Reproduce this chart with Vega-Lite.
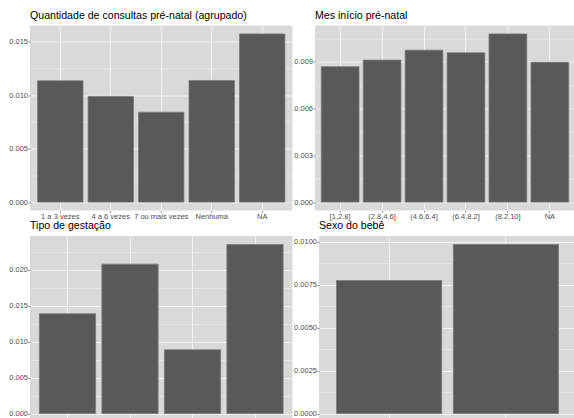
{
  "$schema": "https://vega.github.io/schema/vega-lite/v6.json",
  "autosize": {"type": "pad"},
  "padding": {"left": 8, "top": 10.5, "right": 0, "bottom": 0},
  "background": "white",
  "datasets": {
    "consultas": [
      {"categoria": "1 a 3 vezes", "densidade": 0.01133},
      {"categoria": "4 a 6 vezes", "densidade": 0.00987},
      {"categoria": "7 ou mais vezes", "densidade": 0.0084},
      {"categoria": "Nenhuma", "densidade": 0.01136},
      {"categoria": "NA", "densidade": 0.01571}
    ],
    "mes": [
      {"categoria": "[1,2.8]", "densidade": 0.00868},
      {"categoria": "(2.8,4.6]", "densidade": 0.0091},
      {"categoria": "(4.6,6.4]", "densidade": 0.00974},
      {"categoria": "(6.4,8.2]", "densidade": 0.00957},
      {"categoria": "(8.2,10]", "densidade": 0.01078},
      {"categoria": "NA", "densidade": 0.00896}
    ],
    "gestacao": [
      {"categoria": "Dupla", "densidade": 0.0139},
      {"categoria": "Tripla e mais", "densidade": 0.0208},
      {"categoria": "Única", "densidade": 0.00887},
      {"categoria": "NA", "densidade": 0.02354}
    ],
    "sexo": [
      {"categoria": "Feminino", "densidade": 0.00775},
      {"categoria": "Masculino", "densidade": 0.00985}
    ]
  },
  "vconcat": [
    {
      "hconcat": [
        {
          "width": 262.5,
          "height": 185,
          "title": {"text": "Quantidade de consultas pré-natal (agrupado)"},
          "data": {"name": "consultas"},
          "mark": {"type": "bar", "fill": "#595959", "stroke": "#7a7a7a", "strokeWidth": 0.8},
          "encoding": {
            "x": {"field": "categoria", "type": "nominal", "title": null,
              "sort": ["1 a 3 vezes", "4 a 6 vezes", "7 ou mais vezes", "Nenhuma", "NA"],
              "scale": {"paddingInner": 0.1, "paddingOuter": 0.15},
              "axis": {"bandPosition": 0.5}},
            "y": {"field": "densidade", "type": "quantitative", "title": null,
              "scale": {"domain": [-0.0007855, 0.0164955], "nice": false, "zero": false},
              "axis": {
                "values": [0, 0.0025, 0.005, 0.0075, 0.01, 0.0125, 0.015],
                "labelExpr": "abs(datum.value/0.005 - round(datum.value/0.005)) < 1e-6 ? format(datum.value, '.3f') : ''",
                "gridWidth": {"condition": {"test": "abs(datum.value/0.005 - round(datum.value/0.005)) < 1e-6", "value": 1}, "value": 0.5},
                "tickOpacity": {"condition": {"test": "abs(datum.value/0.005 - round(datum.value/0.005)) < 1e-6", "value": 1}, "value": 0}
              }},
            "y2": {"datum": 0}
          }
        },
        {
          "width": 260,
          "height": 185,
          "title": {"text": "Mes início pré-natal"},
          "data": {"name": "mes"},
          "mark": {"type": "bar", "fill": "#595959", "stroke": "#7a7a7a", "strokeWidth": 0.8},
          "encoding": {
            "x": {"field": "categoria", "type": "nominal", "title": null,
              "sort": ["[1,2.8]", "(2.8,4.6]", "(4.6,6.4]", "(6.4,8.2]", "(8.2,10]", "NA"],
              "scale": {"paddingInner": 0.1, "paddingOuter": 0.15},
              "axis": {"bandPosition": 0.5}},
            "y": {"field": "densidade", "type": "quantitative", "title": null,
              "scale": {"domain": [-0.000539, 0.011319], "nice": false, "zero": false},
              "axis": {
                "values": [0, 0.0015, 0.003, 0.0045, 0.006, 0.0075, 0.009, 0.0105],
                "labelExpr": "abs(datum.value/0.003 - round(datum.value/0.003)) < 1e-6 ? format(datum.value, '.3f') : ''",
                "gridWidth": {"condition": {"test": "abs(datum.value/0.003 - round(datum.value/0.003)) < 1e-6", "value": 1}, "value": 0.5},
                "tickOpacity": {"condition": {"test": "abs(datum.value/0.003 - round(datum.value/0.003)) < 1e-6", "value": 1}, "value": 0}
              }},
            "y2": {"datum": 0}
          }
        }
      ],
      "spacing": 22,
      "bounds": "flush"
    },
    {
      "hconcat": [
        {
          "width": 262.5,
          "height": 186,
          "title": {"text": "Tipo de gestação"},
          "data": {"name": "gestacao"},
          "mark": {"type": "bar", "fill": "#595959", "stroke": "#7a7a7a", "strokeWidth": 0.8},
          "encoding": {
            "x": {"field": "categoria", "type": "nominal", "title": null,
              "sort": ["Dupla", "Tripla e mais", "Única", "NA"],
              "scale": {"paddingInner": 0.1, "paddingOuter": 0.15},
              "axis": {"bandPosition": 0.5}},
            "y": {"field": "densidade", "type": "quantitative", "title": null,
              "scale": {"domain": [-0.001177, 0.024717], "nice": false, "zero": false},
              "axis": {
                "values": [0, 0.0025, 0.005, 0.0075, 0.01, 0.0125, 0.015, 0.0175, 0.02, 0.0225],
                "labelExpr": "abs(datum.value/0.005 - round(datum.value/0.005)) < 1e-6 ? format(datum.value, '.3f') : ''",
                "gridWidth": {"condition": {"test": "abs(datum.value/0.005 - round(datum.value/0.005)) < 1e-6", "value": 1}, "value": 0.5},
                "tickOpacity": {"condition": {"test": "abs(datum.value/0.005 - round(datum.value/0.005)) < 1e-6", "value": 1}, "value": 0}
              }},
            "y2": {"datum": 0}
          }
        },
        {
          "width": 257,
          "height": 186,
          "title": {"text": "Sexo do bebê"},
          "data": {"name": "sexo"},
          "mark": {"type": "bar", "fill": "#595959", "stroke": "#7a7a7a", "strokeWidth": 0.8},
          "encoding": {
            "x": {"field": "categoria", "type": "nominal", "title": null,
              "sort": ["Feminino", "Masculino"],
              "scale": {"paddingInner": 0.1, "paddingOuter": 0.15},
              "axis": {"bandPosition": 0.5}},
            "y": {"field": "densidade", "type": "quantitative", "title": null,
              "scale": {"domain": [-0.0004925, 0.0103425], "nice": false, "zero": false},
              "axis": {
                "values": [0, 0.00125, 0.0025, 0.00375, 0.005, 0.00625, 0.0075, 0.00875, 0.01],
                "labelExpr": "abs(datum.value/0.0025 - round(datum.value/0.0025)) < 1e-6 ? format(datum.value, '.4f') : ''",
                "gridWidth": {"condition": {"test": "abs(datum.value/0.0025 - round(datum.value/0.0025)) < 1e-6", "value": 1}, "value": 0.5},
                "tickOpacity": {"condition": {"test": "abs(datum.value/0.0025 - round(datum.value/0.0025)) < 1e-6", "value": 1}, "value": 0}
              }},
            "y2": {"datum": 0}
          }
        }
      ],
      "spacing": 26,
      "bounds": "flush"
    }
  ],
  "spacing": 1.5,
  "config": {
    "font": "Liberation Sans",
    "view": {"fill": "#d9d9d9", "stroke": null},
    "axis": {
      "domain": false,
      "grid": true,
      "gridColor": "#f0f0f0",
      "gridWidth": 1,
      "labelFont": "Liberation Sans",
      "labelFontSize": 7.5,
      "labelColor": "#4d4d4d",
      "tickColor": "#333333",
      "tickSize": 2,
      "tickWidth": 0.6,
      "labelPadding": 0.5
    },
    "axisX": {"labelAngle": 0, "labelOverlap": false, "labelFlush": false, "labelLimit": 0, "tickSize": 1.5, "labelPadding": 0},
    "title": {
      "anchor": "start",
      "frame": "group",
      "font": "Liberation Sans",
      "fontSize": 10.6,
      "fontWeight": "normal",
      "color": "#000000",
      "offset": 4,
      "baseline": "alphabetic"
    }
  }
}
